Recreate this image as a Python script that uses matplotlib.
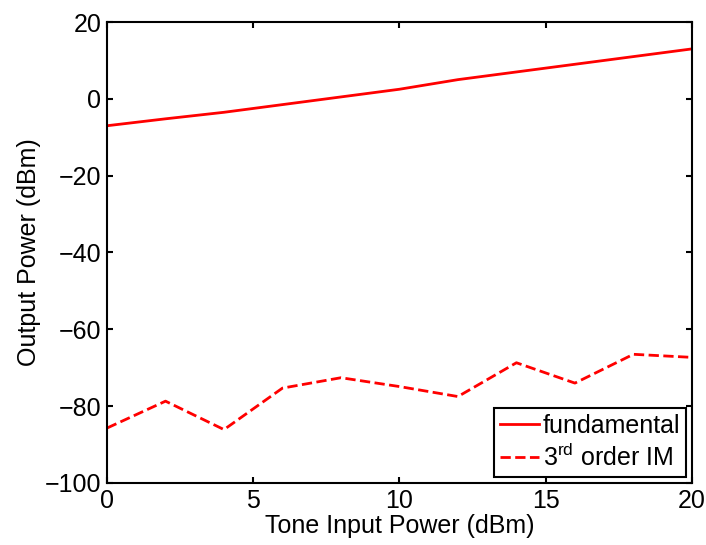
import matplotlib
matplotlib.use("Agg")
import matplotlib.pyplot as plt

plt.rcParams['font.family'] = ['Liberation Sans', 'DejaVu Sans']
plt.rcParams['mathtext.fontset'] = 'custom'
plt.rcParams['mathtext.rm'] = 'Liberation Sans'

# tone input power (dBm)
p_in = [0, 2, 4, 6, 8, 10, 12, 14, 16, 18, 20]
# output powers (dBm)
fundamental = [-7, -5.2, -3.5, -1.5, 0.5, 2.5, 5, 7, 9, 11, 13]
im3 = [-85.7, -78.7, -86.1, -75.3, -72.6, -74.9, -77.5, -68.7, -74.0, -66.5, -67.3]

fig = plt.figure(figsize=(7.06, 5.45), dpi=100)
ax = fig.add_axes([0.1516, 0.1138, 0.8284, 0.8458])

ax.plot(p_in, fundamental, 'r-', lw=2, label='fundamental')
ax.plot(p_in, im3, 'r--', lw=2, label=r'3$^{\rm rd}$ order IM')

ax.set_xlim(0, 20)
ax.set_ylim(-100, 20)
ax.set_xticks([0, 5, 10, 15, 20])
ax.set_yticks(range(-100, 21, 20))
ax.tick_params(direction='in', top=True, right=True, labelsize=18, width=1.5, length=4, pad=4)
for s in ax.spines.values():
    s.set_linewidth(1.5)

ax.set_xlabel('Tone Input Power (dBm)', fontsize=18, labelpad=1)
ax.set_ylabel('Output Power (dBm)', fontsize=18, labelpad=3)

leg = ax.legend(loc='lower right', fontsize=18, fancybox=False, framealpha=1,
                edgecolor='black', handlelength=1.56, handletextpad=0.15,
                borderpad=0.25, labelspacing=0.25, borderaxespad=0.22)
leg.get_frame().set_linewidth(1.5)

fig.savefig('out.png', dpi=100)
